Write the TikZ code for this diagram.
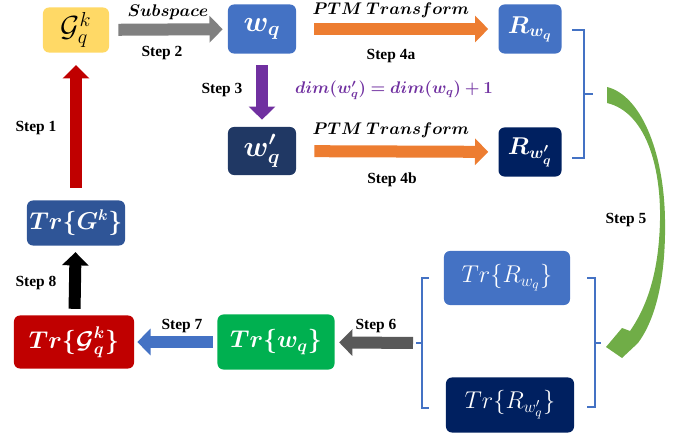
\documentclass[tikz,border=0pt]{standalone}
\usepackage{amsmath, amssymb, bm}
\usepackage{fontspec}
\setmainfont{Liberation Serif}
\usepackage{xcolor}
\usetikzlibrary{arrows.meta, positioning, calc}

\definecolor{sunyellow}{HTML}{FFD966}
\definecolor{midblue}{HTML}{4472C4}
\definecolor{navyblue}{HTML}{203864}
\definecolor{deepnavy}{HTML}{002060}
\definecolor{steelblue}{HTML}{2F5597}
\definecolor{darkred}{HTML}{C00000}
\definecolor{brightgreen}{HTML}{00B050}
\definecolor{orangearrow}{HTML}{ED7D31}
\definecolor{purplearrow}{HTML}{7030A0}
\definecolor{leafgreen}{HTML}{70AD47}
\definecolor{greyarrow}{HTML}{808080}
\definecolor{darkgrey}{HTML}{595959}

\begin{document}
\begin{tikzpicture}[x=0.025cm, y=-0.025cm,
    box/.style={rectangle, rounded corners=0.15cm, text=white, inner sep=0pt},
    blockarrow/.style={line width=0.3cm, -{Triangle[length=0.33cm, width=0.65cm]}},
    steplabel/.style={font=\bfseries\fontsize{11}{13}\selectfont},
    mathlabel/.style={font=\fontsize{12}{14}\selectfont},
    bracketline/.style={draw=midblue, line width=1.4pt}]

    \useasboundingbox (0,0) rectangle (681,438);

    % boxes of the first part
    \node (gqk) [box, fill=sunyellow, text=black, minimum width=1.65cm, minimum height=1.125cm, font=\fontsize{20}{22}\selectfont] at (76,30) {$\mathcal{G}_q^k$};
    \node (wq) [box, fill=midblue, minimum width=1.7cm, minimum height=1.225cm, font=\fontsize{20}{22}\selectfont] at (262,29) {$\bm{w_q}$};
    \node (rwq) [box, fill=midblue, minimum width=1.575cm, minimum height=1.225cm, font=\fontsize{18}{20}\selectfont] at (530,29) {$\bm{R_{w_q}}$};
    \node (wqp) [box, fill=navyblue, minimum width=1.7cm, minimum height=1.2cm, font=\fontsize{20}{22}\selectfont] at (262,151) {$\bm{w'_q}$};
    \node (rwqp) [box, fill=deepnavy, minimum width=1.575cm, minimum height=1.225cm, font=\fontsize{18}{20}\selectfont] at (530,152) {$\bm{R_{w'_q}}$};

    % boxes of the second part
    \node (trgk) [box, fill=steelblue, minimum width=2.45cm, minimum height=1.125cm, font=\fontsize{16}{18}\selectfont] at (76,223) {$\bm{Tr\{G^k\}}$};
    \node (trgqk) [box, fill=darkred, minimum width=3cm, minimum height=1.325cm, font=\fontsize{17}{19}\selectfont] at (74,342) {$\bm{Tr\{\mathcal{G}_q^k\}}$};
    \node (trwq) [box, fill=brightgreen, minimum width=2.925cm, minimum height=1.375cm, font=\fontsize{17}{19}\selectfont] at (276,342) {$\bm{Tr\{w_q\}}$};
    \node (trrwq) [box, fill=midblue, minimum width=3.15cm, minimum height=1.35cm, font=\fontsize{18}{20}\selectfont] at (507,278) {$Tr\{R_{w_q}\}$};
    \node (trrwqp) [box, fill=deepnavy, minimum width=3.2cm, minimum height=1.375cm, font=\fontsize{18}{20}\selectfont] at (510,405) {$Tr\{R_{w'_q}\}$};

    % labels
    \node (subspace) [mathlabel] at (168,12) {$\bm{Subspace}$};
    \node (step2) [steplabel] at (162,53) {Step 2};
    \node (ptma) [mathlabel] at (391,10) {$\bm{PTM\ Transform}$};
    \node (step4a) [steplabel] at (391,56) {Step 4a};
    \node (step3) [steplabel] at (222,90) {Step 3};
    \node (dimrule) [mathlabel, text=purplearrow] at (394,90) {$\bm{dim(w'_q)=dim(w_q)+1}$};
    \node (ptmb) [mathlabel] at (391,130) {$\bm{PTM\ Transform}$};
    \node (step4b) [steplabel] at (392,180) {Step 4b};
    \node (step1) [steplabel] at (36,128) {Step 1};
    \node (step8) [steplabel] at (36,283) {Step 8};
    \node (step7) [steplabel] at (182,326) {Step 7};
    \node (step6) [steplabel] at (376,326) {Step 6};
    \node (step5) [steplabel] at (626,220) {Step 5};

    % brackets
    \draw [bracketline] (572,30) -- (584,30) -- (584,158) -- (572,158);
    \draw [bracketline] (584,94) -- (593,94);
    \draw [bracketline] (429,278) -- (422,278) -- (422,408) -- (429,408);
    \draw [bracketline] (422,343) -- (416,343);
    \draw [bracketline] (587,278) -- (595,278) -- (595,407) -- (587,407);
    \draw [bracketline] (595,343) -- (601,343);
    \coordinate (lbrace) at (417,343);

    % arrows
    \draw [blockarrow, draw=greyarrow, shorten <=0.225cm, shorten >=0.125cm] (gqk) -- (wq);
    \draw [blockarrow, draw=orangearrow, shorten <=0.45cm, shorten >=0.25cm] (wq) -- (rwq);
    \draw [blockarrow, draw=orangearrow, shorten <=0.45cm, shorten >=0.25cm] (wqp) -- (rwqp);
    \draw [blockarrow, draw=purplearrow, shorten <=0.29cm, shorten >=0.175cm] (wq) -- (wqp);
    \draw [blockarrow, draw=darkred, shorten <=0.31cm, shorten >=0.31cm] (trgk) -- (gqk);
    \draw [blockarrow, draw=black, shorten <=0.16cm, shorten >=0.16cm] (trgqk) -- (trgk);
    \draw [blockarrow, draw=midblue, shorten <=0.11cm, shorten >=0.075cm] (trwq) -- (trgqk);
    \draw [blockarrow, draw=darkgrey, shorten <=0.1cm, shorten >=0.11cm] (lbrace) -- (trwq);

    % curved arrow of step 5
    \fill [leafgreen] (607,87) .. controls (640,95) and (664,150) .. (665,220)
        .. controls (666,280) and (655,320) .. (638,343) -- (622,358) -- (606,347)
        -- (622,328) -- (630,331) .. controls (648,305) and (659,270) .. (660,220)
        .. controls (661,165) and (645,112) .. (607,103) -- cycle;
\end{tikzpicture}
\end{document}
